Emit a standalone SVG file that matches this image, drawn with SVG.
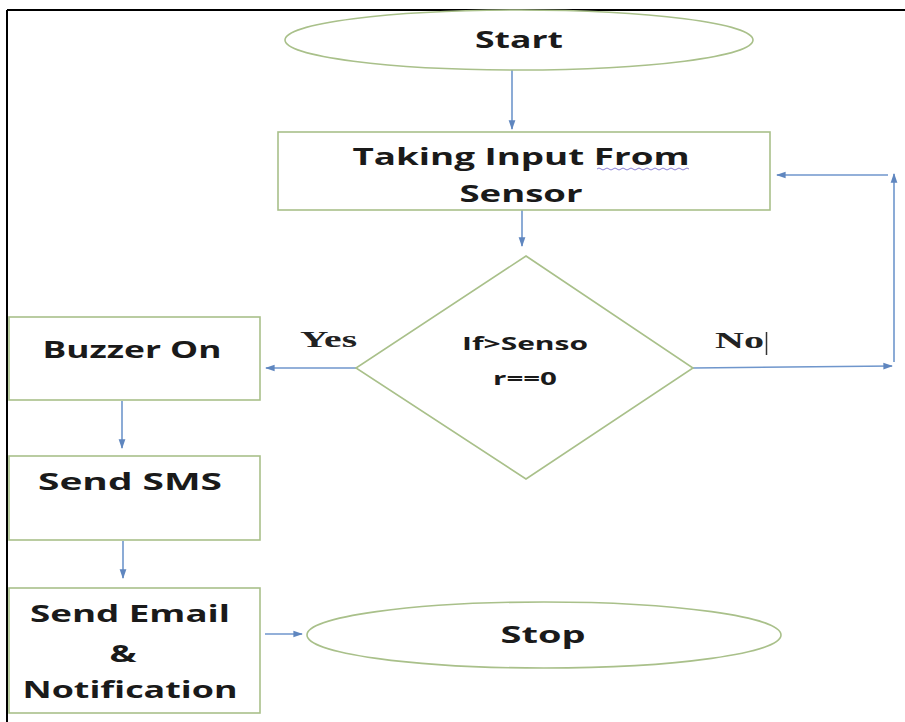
<svg xmlns="http://www.w3.org/2000/svg" width="905" height="722" viewBox="0 0 905 722">
  <style>
    .node { fill: #ffffff; stroke: #a9c08a; stroke-width: 1.6; }
    .lbl { font-family: "Open Sans", "Liberation Sans", sans-serif; font-weight: 700; fill: #1a1a1a; }
    .big { font-size: 24px; }
    .mid { font-size: 18px; }
    .ser { font-family: "Liberation Serif", "Times New Roman", serif; font-weight: 700; font-size: 24px; fill: #222222; }
    .conn { fill: none; stroke: #6f96cc; stroke-width: 1.6; marker-end: url(#head); }
  </style>
  <defs>
    <marker id="head" viewBox="0 0 10 10" refX="9" refY="5" markerWidth="6" markerHeight="6" markerUnits="strokeWidth" orient="auto">
      <path d="M0,1.5 L10,5 L0,8.5 Z" fill="#5f86bf"/>
    </marker>
  </defs>

  <rect x="0" y="0" width="905" height="722" fill="#ffffff"/>

  <!-- frame -->
  <g id="frame" stroke="#000000" stroke-width="2" fill="none">
    <line x1="7" y1="10" x2="905" y2="10"/>
    <line x1="7" y1="10" x2="7" y2="722"/>
  </g>

  <!-- connectors -->
  <g id="connectors">
    <line class="conn" x1="512" y1="70" x2="512" y2="129"/>
    <line class="conn" x1="522" y1="210" x2="522" y2="246"/>
    <line class="conn" x1="356" y1="368" x2="266" y2="368"/>
    <line class="conn" x1="693" y1="368" x2="892" y2="366"/>
    <line class="conn" x1="894" y1="362" x2="894" y2="174"/>
    <line class="conn" x1="888" y1="175" x2="777" y2="175"/>
    <line class="conn" x1="122" y1="401" x2="122" y2="448"/>
    <line class="conn" x1="123" y1="541" x2="123" y2="578"/>
    <line class="conn" x1="265" y1="634" x2="302" y2="634"/>
  </g>

  <!-- Start -->
  <g id="start">
    <ellipse class="node" cx="519" cy="40" rx="234" ry="30"/>
    <text class="lbl big" x="519" y="48" text-anchor="middle" textLength="88" lengthAdjust="spacingAndGlyphs">Start</text>
  </g>

  <!-- Taking input -->
  <g id="input">
    <rect class="node" x="278" y="132" width="492" height="78"/>
    <text class="lbl big" x="521" y="165" text-anchor="middle" textLength="337" lengthAdjust="spacingAndGlyphs">Taking Input From</text>
    <text class="lbl big" x="521" y="202" text-anchor="middle" textLength="123" lengthAdjust="spacingAndGlyphs">Sensor</text>
    <path d="M597,169 q2,-2 4,0 t4,0 t4,0 t4,0 t4,0 t4,0 t4,0 t4,0 t4,0 t4,0 t4,0 t4,0 t4,0 t4,0 t4,0 t4,0 t4,0 t4,0 t4,0 t4,0 t4,0 t4,0 t4,0" fill="none" stroke="#8a7fd6" stroke-width="1"/>
  </g>

  <!-- Decision -->
  <g id="decision">
    <polygon class="node" points="526,256 693,368 526,479 356,368"/>
    <text class="lbl mid" x="525" y="350" text-anchor="middle" textLength="126" lengthAdjust="spacingAndGlyphs">If&gt;Senso</text>
    <text class="lbl mid" x="525" y="385" text-anchor="middle" textLength="64" lengthAdjust="spacingAndGlyphs">r==0</text>
  </g>

  <!-- branch labels -->
  <g id="labels">
    <text class="ser" x="300" y="347" textLength="57" lengthAdjust="spacingAndGlyphs">Yes</text>
    <text class="ser" x="715" y="348" textLength="49" lengthAdjust="spacingAndGlyphs">No</text>
    <line x1="766.5" y1="332" x2="766.5" y2="355" stroke="#333333" stroke-width="1.5"/>
  </g>

  <!-- Buzzer -->
  <g id="buzzer">
    <rect class="node" x="9" y="317" width="251" height="83"/>
    <text class="lbl big" x="132" y="358" text-anchor="middle" textLength="179" lengthAdjust="spacingAndGlyphs">Buzzer On</text>
  </g>

  <!-- SMS -->
  <g id="sms">
    <rect class="node" x="9" y="456" width="251" height="84"/>
    <text class="lbl big" x="130" y="490" text-anchor="middle" textLength="184" lengthAdjust="spacingAndGlyphs">Send SMS</text>
  </g>

  <!-- Email -->
  <g id="email">
    <rect class="node" x="9" y="588" width="251" height="125"/>
    <text class="lbl big" x="130" y="622" text-anchor="middle" textLength="200" lengthAdjust="spacingAndGlyphs">Send Email</text>
    <text class="lbl big" x="123" y="662" text-anchor="middle" textLength="27" lengthAdjust="spacingAndGlyphs">&amp;</text>
    <text class="lbl big" x="130" y="698" text-anchor="middle" textLength="215" lengthAdjust="spacingAndGlyphs">Notification</text>
  </g>

  <!-- Stop -->
  <g id="stop">
    <ellipse class="node" cx="544" cy="635" rx="237" ry="33"/>
    <text class="lbl big" x="543" y="643" text-anchor="middle" textLength="85" lengthAdjust="spacingAndGlyphs">Stop</text>
  </g>
</svg>
